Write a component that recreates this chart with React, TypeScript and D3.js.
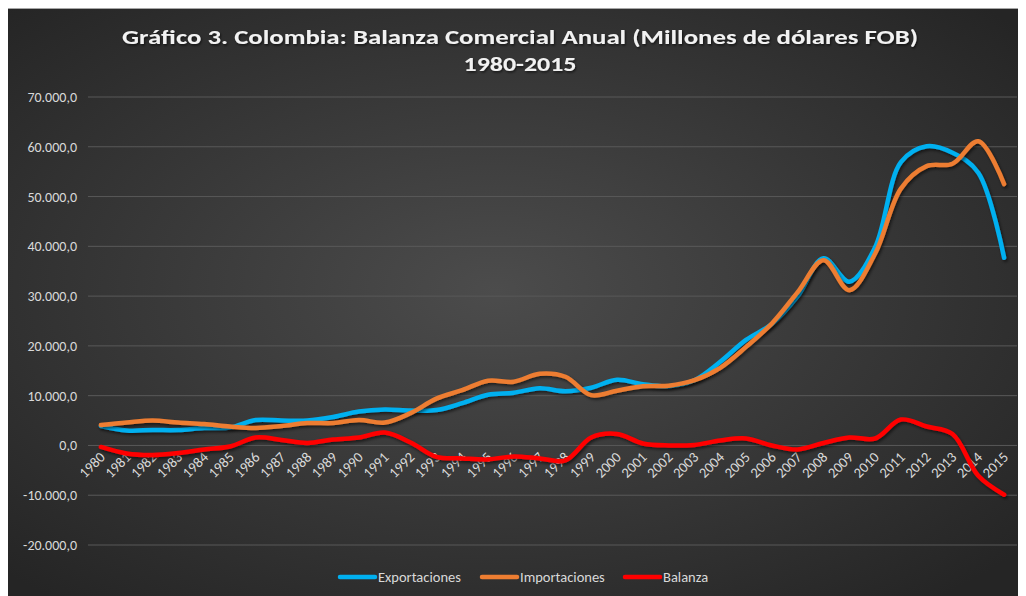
import * as d3 from "d3"

const years = d3.range(1980, 2016).map(String)

const exportaciones = [
  3.9, 3.0, 3.1, 3.1, 3.5, 3.6, 5.1, 5.0, 5.0, 5.7,
  6.8, 7.2, 7.0, 7.1, 8.5, 10.2, 10.6, 11.5, 10.9, 11.6,
  13.2, 12.3, 11.9, 13.1, 16.8, 21.2, 24.4, 30.0, 37.6, 32.9,
  39.8, 56.9, 60.1, 58.8, 54.8, 37.7
].map(v => v * 1000)

const importaciones = [
  4.1, 4.6, 5.0, 4.6, 4.3, 3.8, 3.5, 3.9, 4.5, 4.5,
  5.1, 4.6, 6.5, 9.4, 11.1, 13.0, 12.8, 14.4, 13.8, 10.1,
  11.0, 11.9, 12.0, 13.1, 15.6, 19.8, 24.5, 30.8, 37.2, 31.2,
  38.5, 51.6, 56.1, 56.6, 61.1, 52.5
].map(v => v * 1000)

const balanza = [
  -0.3, -1.6, -1.9, -1.5, -0.8, -0.2, 1.6, 1.1, 0.5, 1.2,
  1.6, 2.6, 0.6, -2.3, -2.6, -2.8, -2.2, -2.6, -3.0, 1.6,
  2.3, 0.4, 0.0, 0.1, 1.0, 1.4, 0.0, -0.8, 0.5, 1.6,
  1.4, 5.2, 3.8, 2.3, -6.1, -9.9
].map(v => v * 1000)

const yTicks = [-20000, -10000, 0, 10000, 20000, 30000, 40000, 50000, 60000, 70000]

const series = [
  { name: "Exportaciones", values: exportaciones, color: "#00b0f0" },
  { name: "Importaciones", values: importaciones, color: "#ed7d31" },
  { name: "Balanza", values: balanza, color: "#ff0000" },
]

const fmt = (v: number) => {
  const s = d3.format(",.1f")(v)
  return s.replace(/,/g, "#").replace(".", ",").replace(/#/g, ".").replace("−", "-")
}

export default function App() {
  const left = 88
  const right = 1017
  const x = d3.scaleBand().domain(years).range([left, right])
  const y = d3.scaleLinear().domain([-20000, 70000]).range([545, 97])

  const line = d3.line<number>()
    .x((_, i) => x(years[i])! + x.bandwidth() / 2)
    .y(d => y(d))
    .curve(d3.curveCatmullRom.alpha(0.5))

  const font = "Calibri, Carlito, 'Noto Sans', sans-serif"
  const legendX = [340, 482, 625]

  return (
    <svg width={1020} height={588} style={{ display: "block", marginLeft: -2 }}>
      <defs>
        <radialGradient id="bg" cx="48%" cy="48%" r="68%">
          <stop offset="0%" stopColor="#4c4c4c" />
          <stop offset="100%" stopColor="#252525" />
        </radialGradient>
        <filter id="sh" x="-5%" y="-5%" width="110%" height="120%">
          <feDropShadow dx="1.5" dy="2" stdDeviation="1.5" floodColor="#000" floodOpacity="0.55" />
        </filter>
        <filter id="tsh" x="-5%" y="-20%" width="110%" height="150%">
          <feDropShadow dx="1" dy="1.5" stdDeviation="1" floodColor="#000" floodOpacity="0.6" />
        </filter>
      </defs>
      <g transform="translate(-6,-8)">
        <rect x={6} y={8} width={1020} height={588} fill="url(#bg)" />
        <line x1={6} x2={1026} y1={8.5} y2={8.5} stroke="#a6a6a6" strokeWidth={1} />

        <text x={520} y={44} textAnchor="middle" fill="#f2f2f2" fontFamily={font}
          fontWeight="bold" fontSize={21} textLength={796} lengthAdjust="spacingAndGlyphs"
          filter="url(#tsh)">
          Gráfico 3. Colombia: Balanza Comercial Anual (Millones de dólares FOB)
        </text>
        <text x={520} y={71} textAnchor="middle" fill="#f2f2f2" fontFamily={font}
          fontWeight="bold" fontSize={21} textLength={113} lengthAdjust="spacingAndGlyphs"
          filter="url(#tsh)">
          1980-2015
        </text>

        {yTicks.map(t => (
          <g key={t}>
            <line x1={left} x2={right} y1={y(t)} y2={y(t)} stroke="#595959" strokeWidth={1} />
            <text x={77} y={y(t) + 5} textAnchor="end" fill="#d9d9d9" fontFamily={font} fontSize={14}>
              {fmt(t)}
            </text>
          </g>
        ))}

        {years.map(yr => {
          const cx = x(yr)! + x.bandwidth() / 2 + 5
          const cy = 458
          return (
            <text key={yr} x={cx} y={cy} textAnchor="end" fill="#d9d9d9" fontFamily={font}
              fontSize={14.5} transform={`rotate(-45 ${cx} ${cy})`}>
              {yr}
            </text>
          )
        })}

        {series.map(s => (
          <path key={s.name} d={line(s.values)!} fill="none" stroke={s.color} strokeWidth={4.5}
            strokeLinecap="round" strokeLinejoin="round" filter="url(#sh)" />
        ))}

        {series.map((s, i) => (
          <g key={s.name}>
            <line x1={legendX[i]} x2={legendX[i] + 35} y1={577} y2={577} stroke={s.color}
              strokeWidth={4.5} strokeLinecap="round" />
            <text x={legendX[i] + 38} y={582} fill="#d9d9d9" fontFamily={font} fontSize={14.5}>
              {s.name}
            </text>
          </g>
        ))}
      </g>
    </svg>
  )
}
